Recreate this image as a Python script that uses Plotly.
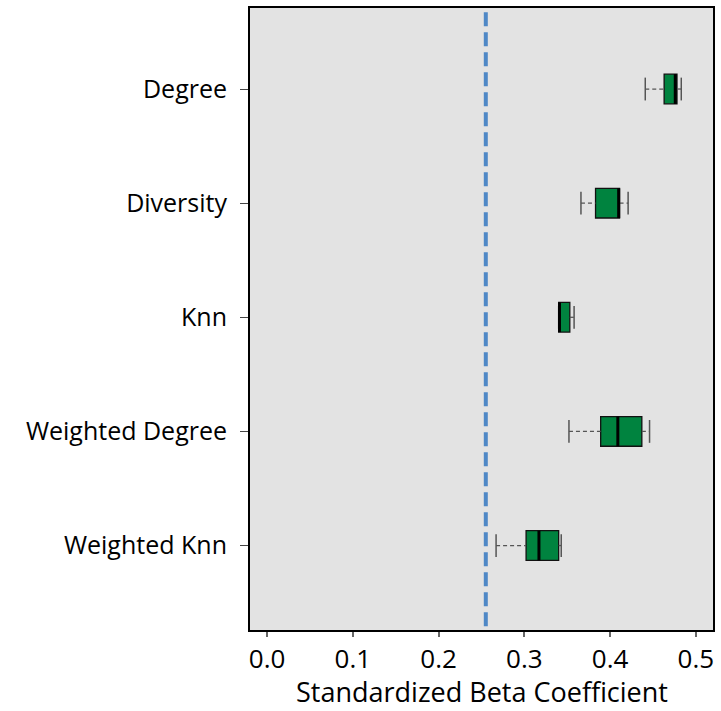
import plotly.graph_objects as go

names = ["Degree", "Diversity", "Knn", "Weighted Degree", "Weighted Knn"]
lower = [0.441, 0.366, 0.340, 0.352, 0.267]
q1 = [0.463, 0.383, 0.340, 0.389, 0.302]
median = [0.476, 0.410, 0.341, 0.409, 0.317]
q3 = [0.478, 0.411, 0.353, 0.437, 0.340]
upper = [0.483, 0.421, 0.358, 0.446, 0.343]
ref_value = 0.255
x_ticks = [0.0, 0.1, 0.2, 0.3, 0.4, 0.5]
x_title = "Standardized Beta Coefficient"

positions = list(range(1, len(names) + 1))
FONT = "Open Sans"
GREEN = "#00833F"
BOX_W = 0.26
CAP_H = 0.1

fig = go.Figure()

for i, p in enumerate(positions):
    # dashed whiskers
    fig.add_trace(go.Scatter(
        x=[lower[i], q1[i], None, q3[i], upper[i]],
        y=[p, p, None, p, p],
        mode="lines", line=dict(color="#555555", width=1.3, dash="4px,3px"),
        showlegend=False, hoverinfo="skip"))
    # whisker caps
    fig.add_trace(go.Scatter(
        x=[lower[i], lower[i], None, upper[i], upper[i]],
        y=[p - CAP_H, p + CAP_H, None, p - CAP_H, p + CAP_H],
        mode="lines", line=dict(color="#555555", width=1.5),
        showlegend=False, hoverinfo="skip"))

fig.add_trace(go.Box(
    y=positions, q1=q1, median=median, q3=q3,
    lowerfence=q1, upperfence=q3,
    orientation="h", width=BOX_W,
    fillcolor=GREEN, line=dict(color="#111111", width=1.3),
    showlegend=False, hoverinfo="skip"))

# thick median lines
mx, my = [], []
for i, p in enumerate(positions):
    mx += [median[i], median[i], None]
    my += [p - BOX_W / 2, p + BOX_W / 2, None]
fig.add_trace(go.Scatter(x=mx, y=my, mode="lines",
                         line=dict(color="#000000", width=3),
                         showlegend=False, hoverinfo="skip"))

fig.add_shape(type="line", xref="x", yref="paper", x0=ref_value, x1=ref_value,
              y0=0.006, y1=0.994,
              line=dict(color="#4F88C6", width=4, dash="14px,6px"), layer="above")

fig.add_annotation(text=x_title, xref="paper", yref="paper", x=0.5, y=-81 / 624,
                   xanchor="center", yanchor="bottom", showarrow=False, borderpad=0,
                   font=dict(size=27, family=FONT, color="#000000"))

fig.update_layout(
    width=721, height=711,
    margin=dict(l=250, r=8, t=6, b=81),
    paper_bgcolor="white", plot_bgcolor="#E3E3E3",
    font=dict(family=FONT, color="#000000"),
    showlegend=False,
)
fig.update_xaxes(
    range=[-0.02, 0.52], tickvals=x_ticks, ticktext=[f"{v:.1f}" for v in x_ticks],
    showgrid=False, zeroline=False,
    showline=True, mirror=True, linecolor="#000000", linewidth=2,
    ticks="outside", ticklen=5, tickwidth=1.5, tickcolor="#666666",
    tickfont=dict(size=26, family=FONT),
)
fig.update_yaxes(
    range=[5.74, 0.29], tickvals=positions, ticktext=names,
    showgrid=False, zeroline=False,
    showline=True, mirror=True, linecolor="#000000", linewidth=2,
    ticks="outside", ticklen=8, tickwidth=1.3, tickcolor="#444444",
    tickfont=dict(size=25, family=FONT), ticklabelstandoff=8,
)

fig.write_html("out.html", config={"displayModeBar": False},
               post_script="document.body.style.margin='0';document.body.style.overflow='hidden';")
